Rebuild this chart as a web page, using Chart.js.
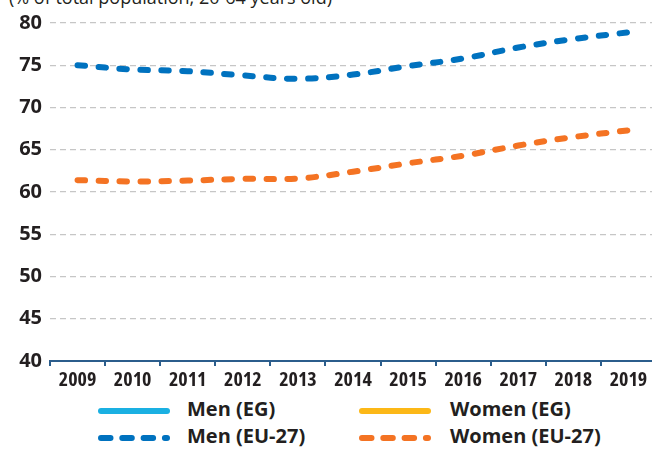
<!DOCTYPE html>
<html>
<head>
<meta charset="utf-8">
<script src="https://cdn.jsdelivr.net/npm/chart.js@4.4.1/dist/chart.umd.min.js"></script>
<style>
html, body { margin: 0; padding: 0; background: #fff; overflow: hidden; }
#wrap { position: relative; width: 652px; height: 450px; overflow: hidden; }
#title { position: absolute; left: 9px; top: -13px; font: 18px "Open Sans"; line-height: 20px; color: #231f20; white-space: nowrap; }
#chart { position: absolute; left: 0; top: 0; }
.item { position: absolute; height: 20px; font: bold 20px "Open Sans"; line-height: 20px; color: #231f20; white-space: nowrap; }
.item svg { position: absolute; left: 0; top: 6px; }
.item span { position: absolute; top: -2px; }
</style>
</head>
<body>
<div id="wrap">
  <div id="title">(% of total population, 20-64 years old)</div>
  <canvas id="chart" width="656" height="392"></canvas>
  <div id="legend"></div>
</div>
<script>
const years = ["2009", "2010", "2011", "2012", "2013", "2014", "2015", "2016", "2017", "2018", "2019"];
const menEG = [];
const womenEG = [];
const menEU = [75.0, 74.5, 74.3, 73.8, 73.4, 73.9, 74.9, 75.8, 77.1, 78.1, 78.9];
const womenEU = [61.4, 61.25, 61.35, 61.55, 61.6, 62.4, 63.4, 64.3, 65.5, 66.5, 67.3];

const txt = '#231f20';
const axisBlue = '#2b5d8c';

const datasets = [
    { label: 'Men (EG)', data: menEG, borderColor: '#1ab0e2', dash: [] },
    { label: 'Women (EG)', data: womenEG, borderColor: '#fcb817', dash: [] },
    { label: 'Men (EU-27)', data: menEU, borderColor: '#0072bf', dash: [7.5, 13.5] },
    { label: 'Women (EU-27)', data: womenEU, borderColor: '#f47323', dash: [7.5, 13.5] }
].map(d => ({
    label: d.label,
    data: d.data,
    borderColor: d.borderColor,
    backgroundColor: d.borderColor,
    borderWidth: 6,
    borderDash: d.dash,
    borderCapStyle: 'round',
    tension: 0.4,
    pointRadius: 0,
    fill: false
}));

new Chart(document.getElementById('chart'), {
    type: 'line',
    data: { labels: years, datasets: datasets },
    options: {
        responsive: false,
        animation: false,
        layout: { padding: { top: 23, left: 0, right: 0, bottom: 0 } },
        plugins: { legend: { display: false }, tooltip: { enabled: false } },
        scales: {
            x: {
                offset: true,
                grid: { display: true, drawOnChartArea: false, offset: true, color: axisBlue, lineWidth: 2, tickLength: 5 },
                border: { display: true, color: axisBlue, width: 2 },
                // condensed face for the year labels, as in the original
                ticks: { color: txt, padding: 2, font: { family: '"Open Sans"', weight: 'condensed bold', size: 20 } },
                afterFit: s => { s.height = 31; }
            },
            y: {
                min: 40,
                max: 80,
                ticks: { stepSize: 5, color: txt, padding: 8, font: { family: '"Open Sans"', weight: 'bold', size: 20 } },
                grid: { color: '#c6c6c6', lineWidth: 1.3, drawTicks: false },
                border: { display: false, dash: [6, 4] },
                afterFit: s => { s.width = 50; }
            }
        }
    }
});

// legend laid out as a 2x2 grid like the original
const legendPos = [[98, 401], [359, 401], [98, 428], [359, 428]];
const textGap = [89, 91, 89, 91];
const legend = document.getElementById('legend');
datasets.forEach((d, i) => {
    const item = document.createElement('div');
    item.className = 'item';
    item.style.left = legendPos[i][0] + 'px';
    item.style.top = legendPos[i][1] + 'px';
    const dash = d.borderDash.length ? 'stroke-dasharray="9.5 11.8"' : '';
    item.innerHTML = '<svg width="72" height="8"><line x1="3" y1="4" x2="69" y2="4" stroke="' + d.borderColor +
        '" stroke-width="6" stroke-linecap="round" ' + dash + '/></svg><span style="left:' + textGap[i] + 'px">' + d.label + '</span>';
    legend.appendChild(item);
});
</script>
</body>
</html>
